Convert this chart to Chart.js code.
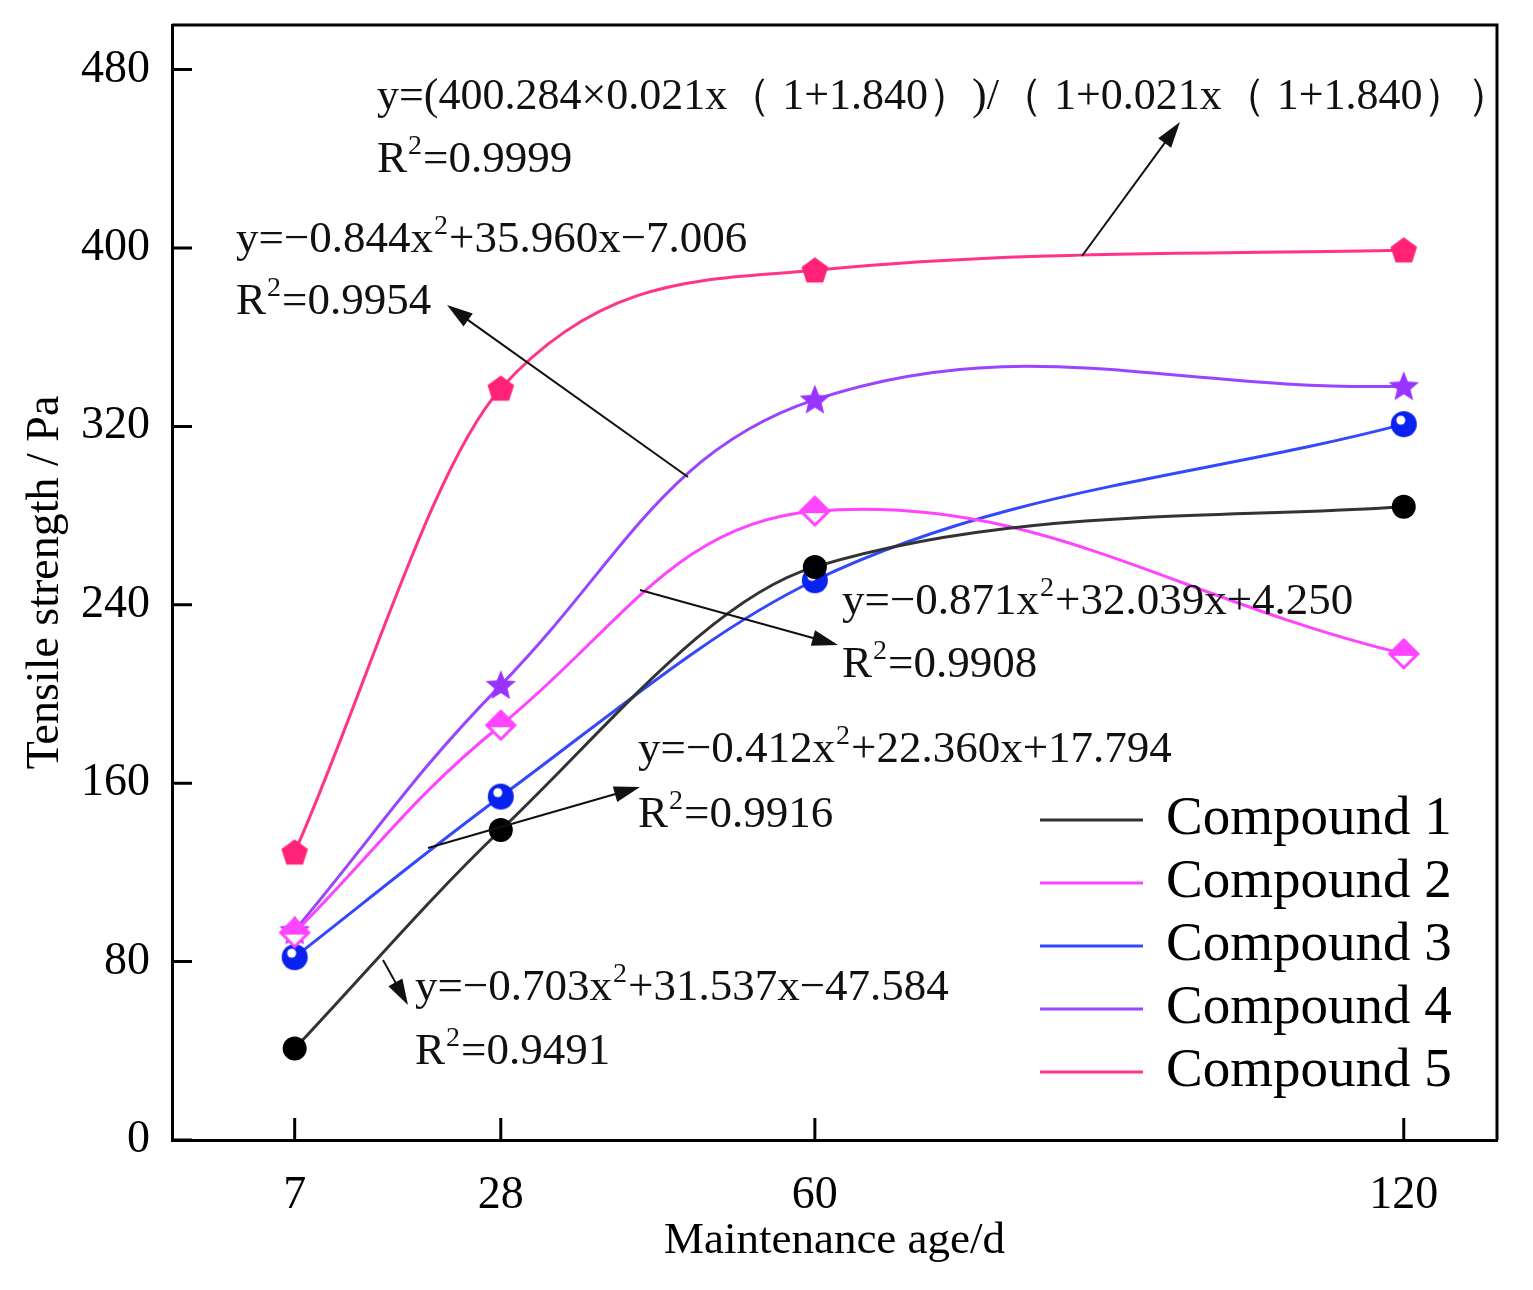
<!DOCTYPE html>
<html>
<head>
<meta charset="utf-8">
<script src="https://cdn.jsdelivr.net/npm/chart.js@4.4.1/dist/chart.umd.min.js"></script>
<style>
  html, body { margin: 0; padding: 0; background: #fff; }
  canvas { display: block; }
</style>
</head>
<body>
<canvas id="tensileChart" width="1533" height="1290"></canvas>
<script>
// values
const ageDays = [7, 28, 60, 120];
const compound1 = [41, 139, 257, 284];
const compound2 = [93, 186, 282, 218];
const compound3 = [82, 154, 251, 321];
const compound4 = [94, 204, 332, 338];
const compound5 = [129, 337, 390, 399];
const yTicks = [0, 80, 160, 240, 320, 400, 480];
const seriesNames = ['Compound 1', 'Compound 2', 'Compound 3', 'Compound 4', 'Compound 5'];

// fitted equations shown on the plot (^2 = superscript)
const fitText = [
  ['y=(400.284×0.021x（ 1+1.840）)/（ 1+0.021x（ 1+1.840））', 'R^2=0.9999'],
  ['y=−0.844x^2+35.960x−7.006', 'R^2=0.9954'],
  ['y=−0.871x^2+32.039x+4.250', 'R^2=0.9908'],
  ['y=−0.412x^2+22.360x+17.794', 'R^2=0.9916'],
  ['y=−0.703x^2+31.537x−47.584', 'R^2=0.9491']
];

const SERIF = '"Liberation Serif", "Times New Roman", serif';

function makeMarker(size, draw) {
  const c = document.createElement('canvas');
  c.width = size; c.height = size;
  const g = c.getContext('2d');
  draw(g, size / 2);
  return c;
}

const diamondMark = makeMarker(34, (g, m) => {
  const r = 14;
  g.beginPath();
  g.moveTo(m, m - r); g.lineTo(m + r, m); g.lineTo(m, m + r); g.lineTo(m - r, m);
  g.closePath();
  g.fillStyle = '#fff'; g.fill();
  g.save(); g.clip();
  g.fillStyle = '#ff44ff';
  g.fillRect(0, 0, 34, m + 2);
  g.restore();
  g.lineWidth = 3; g.strokeStyle = '#ff44ff'; g.stroke();
});

const ballMark = makeMarker(32, (g, m) => {
  g.beginPath(); g.arc(m, m, 13, 0, Math.PI * 2);
  g.fillStyle = '#0a22f0'; g.fill();
  g.beginPath(); g.arc(m - 3, m - 4, 4.5, 0, Math.PI * 2);
  g.fillStyle = '#fff'; g.fill();
});

const starMark = makeMarker(34, (g, m) => {
  g.beginPath();
  for (let i = 0; i < 10; i++) {
    const r = i % 2 === 0 ? 16 : 7;
    const a = -Math.PI / 2 + i * Math.PI / 5;
    const px = m + r * Math.cos(a), py = m + 1 + r * Math.sin(a);
    if (i === 0) g.moveTo(px, py); else g.lineTo(px, py);
  }
  g.closePath();
  g.fillStyle = '#9933ff'; g.fill();
});

const pentaMark = makeMarker(32, (g, m) => {
  g.beginPath();
  for (let i = 0; i < 5; i++) {
    const a = -Math.PI / 2 + i * 2 * Math.PI / 5;
    const px = m + 14 * Math.cos(a), py = m + 1 + 14 * Math.sin(a);
    if (i === 0) g.moveTo(px, py); else g.lineTo(px, py);
  }
  g.closePath();
  g.fillStyle = '#ff2277'; g.fill();
});

function pts(values) {
  return ageDays.map((d, i) => ({ x: d, y: values[i] }));
}

function series(idx, values, color, style, extra) {
  return Object.assign({
    label: seriesNames[idx],
    data: pts(values),
    borderColor: color,
    borderWidth: 3,
    cubicInterpolationMode: 'monotone',
    pointStyle: style,
    pointRadius: 12,
    pointHoverRadius: 12,
    pointBackgroundColor: color,
    pointBorderColor: color,
    pointBorderWidth: 0
  }, extra || {});
}

function drawRich(ctx, text, x, y, size) {
  const parts = text.split('^2');
  let cx = x;
  parts.forEach((p, i) => {
    ctx.font = size + 'px ' + SERIF;
    ctx.fillText(p, cx, y);
    cx += ctx.measureText(p).width;
    if (i < parts.length - 1) {
      ctx.font = Math.round(size * 0.62) + 'px ' + SERIF;
      ctx.fillText('2', cx + 1, y - size * 0.3);
      cx += ctx.measureText('2').width + 2;
    }
  });
}

function arrow(ctx, x1, y1, x2, y2) {
  const a = Math.atan2(y2 - y1, x2 - x1);
  const L = 26, W = 8;
  ctx.beginPath();
  ctx.moveTo(x1, y1);
  ctx.lineTo(x2 - L * 0.6 * Math.cos(a), y2 - L * 0.6 * Math.sin(a));
  ctx.stroke();
  ctx.beginPath();
  ctx.moveTo(x2, y2);
  ctx.lineTo(x2 - L * Math.cos(a) + W * Math.sin(a), y2 - L * Math.sin(a) - W * Math.cos(a));
  ctx.lineTo(x2 - L * Math.cos(a) - W * Math.sin(a), y2 - L * Math.sin(a) + W * Math.cos(a));
  ctx.closePath();
  ctx.fill();
}

// frame on top/right and ticks pointing inward
const framePlugin = {
  id: 'frame',
  beforeDatasetsDraw(chart) {
    const { ctx, chartArea: a, scales } = chart;
    ctx.save();
    ctx.strokeStyle = '#000';
    ctx.lineWidth = 3;
    ctx.beginPath();
    ctx.moveTo(a.left, a.top); ctx.lineTo(a.right, a.top); ctx.lineTo(a.right, a.bottom);
    ctx.stroke();
    ctx.beginPath();
    scales.y.ticks.forEach(t => {
      const py = scales.y.getPixelForValue(t.value);
      ctx.moveTo(a.left, py); ctx.lineTo(a.left + 20, py);
    });
    scales.x.ticks.forEach(t => {
      const px = scales.x.getPixelForValue(t.value);
      ctx.moveTo(px, a.bottom); ctx.lineTo(px, a.bottom - 22);
    });
    ctx.stroke();
    ctx.restore();
  }
};

const notePlugin = {
  id: 'notes',
  afterDatasetsDraw(chart) {
    const ctx = chart.ctx;
    const spots = [
      { x: 377, y: 97, gap: 63, size: 44, arr: [1082, 256, 1180, 122] },
      { x: 236, y: 240, gap: 62, size: 45, arr: [688, 477, 447, 305] },
      { x: 842, y: 602, gap: 63, size: 45, arr: [640, 590, 838, 645] },
      { x: 638, y: 750, gap: 65, size: 45, arr: [428, 848, 640, 787] },
      { x: 415, y: 988, gap: 64, size: 45, arr: [383, 960, 408, 1005] }
    ];
    ctx.save();
    ctx.fillStyle = '#111';
    ctx.strokeStyle = '#111';
    ctx.lineWidth = 2;
    ctx.textBaseline = 'middle';
    ctx.textAlign = 'left';
    spots.forEach((s, i) => {
      drawRich(ctx, fitText[i][0], s.x, s.y, s.size);
      drawRich(ctx, fitText[i][1], s.x, s.y + s.gap, 45);
      arrow(ctx, s.arr[0], s.arr[1], s.arr[2], s.arr[3]);
    });
    ctx.restore();
  }
};

const legendPlugin = {
  id: 'insideLegend',
  afterDraw(chart) {
    const ctx = chart.ctx;
    ctx.save();
    ctx.font = '55px ' + SERIF;
    ctx.textBaseline = 'middle';
    ctx.fillStyle = '#000';
    chart.data.datasets.forEach((ds, i) => {
      const cy = 820 + i * 63;
      ctx.strokeStyle = ds.borderColor;
      ctx.lineWidth = 3;
      ctx.beginPath(); ctx.moveTo(1040, cy); ctx.lineTo(1143, cy); ctx.stroke();
      ctx.fillText(ds.label, 1166, cy);
    });
    ctx.restore();
  }
};

new Chart(document.getElementById('tensileChart').getContext('2d'), {
  type: 'line',
  data: {
    datasets: [
      series(0, compound1, '#333333', 'circle', { pointBackgroundColor: '#000', pointBorderColor: '#000' }),
      series(1, compound2, '#ff44ff', diamondMark, { cubicInterpolationMode: 'default', tension: 0.4 }),
      series(2, compound3, '#3347ff', ballMark),
      series(3, compound4, '#9944ff', starMark, { cubicInterpolationMode: 'default', tension: 0.4 }),
      series(4, compound5, '#ff3388', pentaMark)
    ]
  },
  options: {
    responsive: false,
    animation: false,
    devicePixelRatio: 1,
    layout: { padding: { top: 0, right: 36, left: 0, bottom: 0 } },
    plugins: {
      legend: { display: false },
      tooltip: { enabled: false }
    },
    scales: {
      x: {
        type: 'linear',
        min: -5.5,
        max: 129.5,
        afterBuildTicks: s => { s.ticks = ageDays.map(v => ({ value: v })); },
        afterFit: s => { s.height = 150; },
        grid: { display: true, drawOnChartArea: false, drawTicks: false },
        border: { display: true, color: '#000', width: 3 },
        ticks: { color: '#000', padding: 28, maxRotation: 0, font: { family: SERIF, size: 46 } },
        title: {
          display: true,
          text: 'Maintenance age/d',
          color: '#000',
          padding: { top: 0, bottom: 22 },
          font: { family: SERIF, size: 45 }
        }
      },
      y: {
        min: 0,
        max: 500,
        afterBuildTicks: s => { s.ticks = yTicks.map(v => ({ value: v })); },
        afterFit: s => { s.width = 172; s.paddingTop = 25; s.paddingBottom = 0; },
        grid: { display: true, drawOnChartArea: false, drawTicks: false },
        border: { display: true, color: '#000', width: 3 },
        ticks: { color: '#000', padding: 22, font: { family: SERIF, size: 46 } },
        title: {
          display: true,
          text: 'Tensile strength / Pa',
          color: '#000',
          padding: { top: 18, bottom: 0 },
          font: { family: SERIF, size: 46 }
        }
      }
    }
  },
  plugins: [framePlugin, notePlugin, legendPlugin]
});
</script>
</body>
</html>
